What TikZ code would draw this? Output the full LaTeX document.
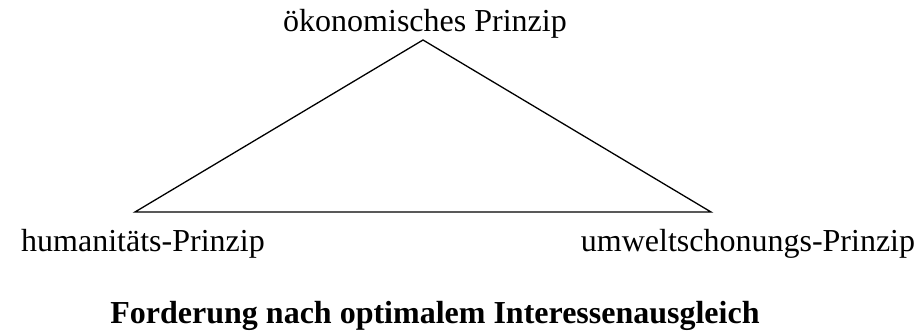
\documentclass[tikz,border=0pt]{standalone}
\usepackage{fontspec}
\setmainfont{Liberation Serif}
\begin{document}
\begin{tikzpicture}[x=1pt,y=-1pt,
  lbl/.style={inner sep=0pt,anchor=base,font=\fontsize{32}{38}\selectfont},
  edge/.style={line width=1.3pt,line join=miter}]
\useasboundingbox (0,0) rectangle (916,336);
\coordinate (top) at (423,40);
\coordinate (left) at (135,212);
\coordinate (right) at (711,212);
\draw[edge] (top) -- (left) -- (right) -- cycle;
\node[lbl] (oek) at (425,32) {ökonomisches Prinzip};
\node[lbl] (hum) at (143,252) {humanitäts-Prinzip};
\node[lbl] (umw) at (748,252) {umweltschonungs-Prinzip};
\node[lbl,font=\fontsize{32}{38}\selectfont\bfseries] (ford) at (435,324) {Forderung nach optimalem Interessenausgleich};
\end{tikzpicture}
\end{document}
